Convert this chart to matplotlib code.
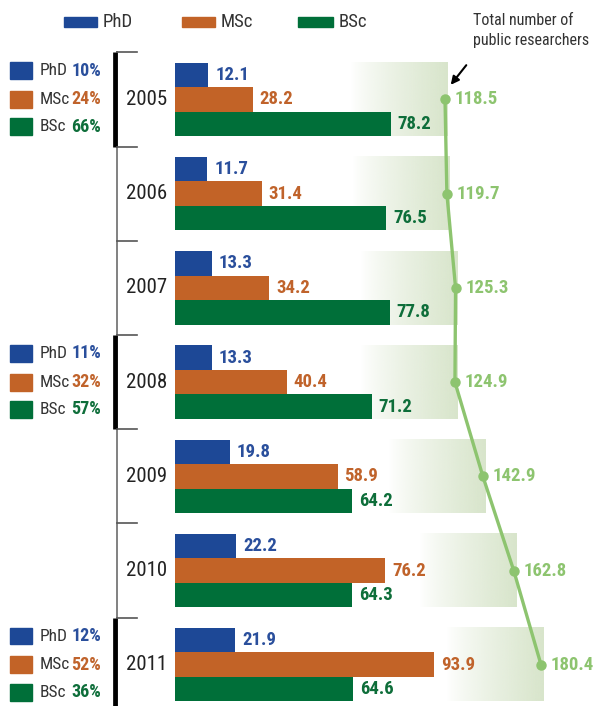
import numpy as np
import matplotlib.pyplot as plt
from matplotlib import font_manager as fm
from matplotlib.patches import Rectangle
from matplotlib.transforms import blended_transform_factory
from matplotlib.colors import to_rgb


def weight_num(w):
    if isinstance(w, (int, float)):
        return w
    return fm.weight_dict.get(str(w).lower(), 400)


def pick_narrow_font():
    # the original uses a condensed sans; find one that has a bold face too
    narrow = [f for f in fm.fontManager.ttflist
              if 'condensed' in str(f.stretch).lower()
              or 'narrow' in f.name.lower() or 'condensed' in f.name.lower()]
    fams = {}
    for f in narrow:
        fams.setdefault(f.name, []).append(f)
    prefs = ['Liberation Sans Narrow', 'Roboto Condensed', 'Open Sans Condensed',
             'Noto Sans', 'Open Sans', 'Roboto', 'DejaVu Sans']
    ranked = sorted(fams, key=lambda n: (
        not any(weight_num(f.weight) >= 600 for f in fams[n]),
        prefs.index(n) if n in prefs else len(prefs)))
    if not ranked:
        return 'Roboto', 'normal'
    fl = fams[ranked[0]]
    reg = [f for f in fl if weight_num(f.weight) < 600] or fl
    return ranked[0], reg[0].stretch


family, stretch = pick_narrow_font()
plt.rcParams['font.family'] = [family, 'DejaVu Sans']
plt.rcParams['font.stretch'] = stretch

# data
years = ['2005', '2006', '2007', '2008', '2009', '2010', '2011']
phd = [12.1, 11.7, 13.3, 13.3, 19.8, 22.2, 21.9]
msc = [28.2, 31.4, 34.2, 40.4, 58.9, 76.2, 93.9]
bsc = [78.2, 76.5, 77.8, 71.2, 64.2, 64.3, 64.6]
total = [118.5, 119.7, 125.3, 124.9, 142.9, 162.8, 180.4]

share_rows = [0, 3, 6]
share_phd = ['10%', '11%', '12%']
share_msc = ['24%', '32%', '52%']
share_bsc = ['66%', '57%', '36%']

series = ['PhD', 'MSc', 'BSc']
colors = ['#1d4896', '#c26327', '#006f39']
text_colors = ['#2a4f9c', '#c0632b', '#0e6e3a']
line_color = '#8dc46f'
grad_color = '#d8e5cb'

W, H = 595, 706
fig = plt.figure(figsize=(W / 100, H / 100), dpi=100)
ax = fig.add_axes([175 / W, 0, 1 - 175 / W, 1])
ax2 = ax.twiny()
ax.set_zorder(2)
ax.patch.set_visible(False)


def fx(px):
    return px / W


y = np.arange(len(years))
bh = 0.26

# bars
for k, vals in enumerate([phd, msc, bsc]):
    pos = y + (k - 1) * bh
    ax.barh(pos, vals, height=bh, color=colors[k], linewidth=0)
    for p, v in zip(pos, vals):
        ax.text(v + 2.5, p, f'{v}', va='center', ha='left', fontsize=13.5,
                fontweight='bold', color=text_colors[k])

# gradient boxes and total line
grad = np.zeros((1, 256, 4))
grad[..., :3] = to_rgb(grad_color)
grad[..., 3] = np.linspace(0, 1, 256) ** 0.8
for i, t in enumerate(total):
    ax2.imshow(grad, extent=(t + 1.3 - 62, t + 1.3, i + 1.5 * bh, i - 1.5 * bh),
               aspect='auto', zorder=0, interpolation='bilinear')
ax2.plot(total, y, color=line_color, lw=2.4, marker='o', ms=6.5, zorder=3)
for i, t in enumerate(total):
    ax2.text(t + 6.3, i, f'{t}', va='center', ha='left', fontsize=13.5,
             fontweight='bold', color=line_color)

ax.set_xlim(0, 420 / 2.76)
ax2.set_xlim(-55.6, 215.2)
ax.set_ylim(6.438, -1.056)
ax.axis('off')
ax2.axis('off')

tr = blended_transform_factory(fig.transFigure, ax.transData)

# year axis on the left
ax.plot([fx(117)] * 2, [-0.5, 6.45], color='#777777', lw=1.3,
        transform=tr, clip_on=False)
for g in share_rows:
    ax.plot([fx(114.5)] * 2, [g - 0.5, min(g + 0.5, 6.45)], color='black',
            lw=3.4, solid_capstyle='butt', transform=tr, clip_on=False)
for k in range(len(years)):
    ax.plot([fx(117), fx(137)], [k - 0.5, k - 0.5], color='#555555', lw=1.2,
            transform=tr, clip_on=False)
for i, yr in enumerate(years):
    ax.text(fx(147), i, yr, ha='center', va='center', fontsize=15,
            color='#222222', transform=tr)

# share boxes
for g, sp, sm, sb in zip(share_rows, share_phd, share_msc, share_bsc):
    for k, (off, pct) in enumerate(zip([-0.305, 0, 0.29], [sp, sm, sb])):
        ax.add_patch(Rectangle((fx(10), g + off - 0.09), fx(22), 0.18,
                               color=colors[k], transform=tr, clip_on=False))
        ax.text(fx(40), g + off, series[k], va='center', ha='left',
                fontsize=12.5, color='#333333', transform=tr)
        ax.text(fx(101), g + off, pct, va='center', ha='right', fontsize=13,
                fontweight='bold', color=text_colors[k], transform=tr)

# top legend
leg_y = -0.823
for k, (x0, x1) in enumerate([(64, 97), (182, 215), (298, 333)]):
    ax.add_patch(Rectangle((fx(x0), leg_y - 0.053), fx(x1 - x0), 0.106,
                           color=colors[k], transform=tr, clip_on=False))
    ax.text(fx(x1 + 6), leg_y, series[k], va='center', ha='left',
            fontsize=13.5, color='#333333', transform=tr)

fig.text(fx(473), 1 - 13 / H, 'Total number of\npublic researchers',
         va='top', ha='left', fontsize=11.5, color='#333333', linespacing=1.4)
ax.annotate('', xy=(449, H - 87), xytext=(468, H - 63),
            xycoords='figure pixels', textcoords='figure pixels',
            arrowprops=dict(arrowstyle='-|>', color='black', lw=1.5,
                            mutation_scale=12))

fig.savefig('out.png', dpi=100)
